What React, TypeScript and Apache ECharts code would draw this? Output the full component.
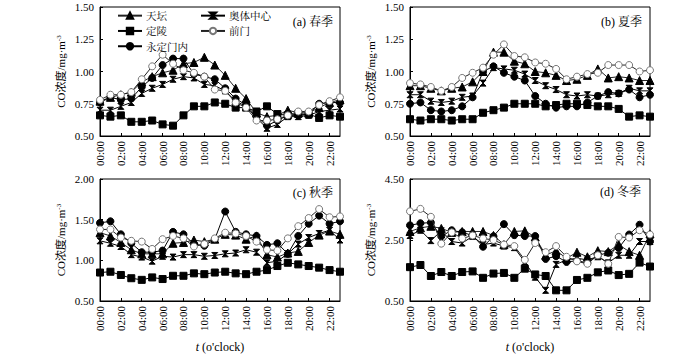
import React, { useEffect, useRef } from "react";
import * as echarts from "echarts";

const hours = Array.from({ length: 24 }, (_, i) => (i < 10 ? "0" + i : "" + i) + ":00");
const stations = ["天坛", "奥体中心", "定陵", "前门", "永定门内"];
const seasonTitles = ["(a) 春季", "(b) 夏季", "(c) 秋季", "(d) 冬季"];

// Spring
const tiantanSpring = [0.77, 0.8, 0.82, 0.84, 0.92, 0.96, 0.99, 1.01, 1.06, 1.07, 1.11, 1.05, 0.97, 0.87, 0.79, 0.68, 0.65, 0.66, 0.7, 0.68, 0.68, 0.72, 0.76, 0.78];
const aotiSpring = [0.7, 0.7, 0.73, 0.76, 0.83, 0.87, 0.9, 0.94, 0.96, 0.95, 0.9, 0.89, 0.85, 0.77, 0.73, 0.64, 0.56, 0.59, 0.65, 0.65, 0.66, 0.69, 0.7, 0.71];
const dinglingSpring = [0.66, 0.65, 0.66, 0.61, 0.61, 0.62, 0.59, 0.58, 0.66, 0.73, 0.73, 0.76, 0.75, 0.72, 0.72, 0.69, 0.73, 0.67, 0.66, 0.67, 0.67, 0.64, 0.66, 0.65];
const qianmenSpring = [0.78, 0.82, 0.82, 0.84, 0.94, 1.04, 1.13, 1.06, 1.01, 0.99, 0.96, 0.86, 0.85, 0.76, 0.72, 0.62, 0.62, 0.63, 0.66, 0.69, 0.69, 0.74, 0.77, 0.8];
const yongdingSpring = [0.76, 0.8, 0.78, 0.79, 0.88, 0.95, 1.05, 1.1, 1.1, 0.98, 0.96, 0.94, 0.87, 0.79, 0.74, 0.65, 0.58, 0.62, 0.66, 0.66, 0.67, 0.75, 0.76, 0.76];

// Summer
const tiantanSummer = [0.89, 0.89, 0.87, 0.85, 0.87, 0.88, 0.92, 1.0, 1.15, 1.15, 1.08, 1.06, 1.0, 0.99, 0.97, 0.93, 0.94, 0.97, 1.02, 0.95, 0.96, 0.95, 0.93, 0.93];
const aotiSummer = [0.82, 0.82, 0.77, 0.76, 0.77, 0.8, 0.81, 0.91, 1.03, 1.02, 1.01, 0.98, 0.93, 0.89, 0.86, 0.82, 0.81, 0.82, 0.81, 0.82, 0.83, 0.87, 0.85, 0.85];
const dinglingSummer = [0.63, 0.62, 0.63, 0.63, 0.62, 0.63, 0.63, 0.68, 0.7, 0.72, 0.75, 0.75, 0.75, 0.73, 0.74, 0.75, 0.75, 0.74, 0.73, 0.73, 0.71, 0.65, 0.66, 0.65];
const qianmenSummer = [0.91, 0.9, 0.88, 0.85, 0.88, 0.95, 0.99, 1.03, 1.13, 1.21, 1.12, 1.11, 1.07, 1.06, 1.02, 0.94, 0.96, 0.98, 0.99, 1.05, 1.05, 1.05, 1.0, 1.01];
const yongdingSummer = [0.75, 0.76, 0.7, 0.69, 0.7, 0.73, 0.8, 1.0, 1.04, 0.99, 0.96, 0.93, 0.81, 0.75, 0.72, 0.73, 0.73, 0.76, 0.81, 0.84, 0.83, 0.86, 0.8, 0.82];

// Autumn
const tiantanAutumn = [1.34, 1.3, 1.22, 1.13, 1.08, 1.08, 1.08, 1.21, 1.22, 1.25, 1.23, 1.26, 1.32, 1.31, 1.26, 1.3, 1.07, 1.04, 1.09, 1.11, 1.22, 1.31, 1.36, 1.32];
const aotiAutumn = [1.24, 1.21, 1.17, 1.07, 1.04, 0.99, 1.05, 1.04, 1.07, 1.07, 1.05, 1.06, 1.08, 1.09, 1.13, 1.1, 0.97, 0.99, 1.08, 1.2, 1.28, 1.33, 1.37, 1.25];
const dinglingAutumn = [0.85, 0.86, 0.82, 0.78, 0.76, 0.79, 0.77, 0.81, 0.81, 0.84, 0.83, 0.85, 0.86, 0.84, 0.83, 0.86, 0.88, 0.93, 0.97, 0.95, 0.93, 0.91, 0.88, 0.86];
const qianmenAutumn = [1.38, 1.38, 1.28, 1.24, 1.23, 1.14, 1.26, 1.3, 1.27, 1.17, 1.2, 1.27, 1.34, 1.33, 1.3, 1.23, 1.13, 1.12, 1.27, 1.42, 1.52, 1.63, 1.53, 1.54];
const yongdingAutumn = [1.46, 1.48, 1.32, 1.21, 1.1, 1.1, 1.12, 1.35, 1.32, 1.2, 1.18, 1.26, 1.6, 1.35, 1.32, 1.3, 1.19, 1.21, 1.08, 1.3, 1.45, 1.55, 1.45, 1.48];

// Winter
const tiantanWinter = [2.78, 2.9, 2.95, 2.88, 2.75, 2.78, 2.78, 2.78, 2.65, 2.35, 2.78, 2.8, 2.6, 2.0, 2.15, 1.9, 2.1, 1.95, 2.15, 2.12, 2.35, 2.12, 2.0, 2.7];
const aotiWinter = [2.65, 2.82, 2.48, 2.8, 2.45, 2.4, 2.62, 2.35, 2.4, 2.3, 2.25, 1.78, 1.28, 0.85, 1.7, 1.85, 1.9, 1.85, 1.95, 1.75, 2.0, 2.0, 2.45, 2.45];
const dinglingWinter = [1.61, 1.68, 1.32, 1.45, 1.32, 1.45, 1.47, 1.26, 1.4, 1.42, 1.26, 1.56, 1.37, 1.32, 0.85, 0.85, 1.19, 1.26, 1.44, 1.5, 1.35, 1.39, 1.76, 1.63];
const qianmenWinter = [3.44, 3.52, 3.26, 2.38, 2.75, 2.55, 2.65, 2.55, 2.5, 2.35, 2.3, 1.85, 2.4, 2.1, 2.3, 1.95, 1.8, 1.72, 2.0, 1.72, 2.6, 2.58, 2.82, 2.68];
const yongdingWinter = [2.98, 3.05, 3.07, 2.62, 2.82, 2.75, 2.65, 2.28, 2.62, 3.02, 2.66, 2.63, 2.63, 1.88, 1.97, 1.78, 1.82, 1.75, 2.0, 2.08, 2.24, 2.68, 3.0, 2.45];

const seasons = [
  [tiantanSpring, aotiSpring, dinglingSpring, qianmenSpring, yongdingSpring],
  [tiantanSummer, aotiSummer, dinglingSummer, qianmenSummer, yongdingSummer],
  [tiantanAutumn, aotiAutumn, dinglingAutumn, qianmenAutumn, yongdingAutumn],
  [tiantanWinter, aotiWinter, dinglingWinter, qianmenWinter, yongdingWinter],
];

const yMins = [0.5, 0.5, 0.5, 0.5];
const yMaxs = [1.5, 1.5, 2.0, 4.5];
const yIntervals = [0.25, 0.25, 0.5, 2];

const FONT = '"Liberation Serif", "Times New Roman", "Noto Sans CJK SC", serif';
const CJK = '"Noto Serif CJK SC", "Noto Sans CJK SC", serif';

const hourglass = "path://M0,0L10,0L0,10L10,10Z";

const styles = [
  { symbol: "triangle", symbolSize: 8, color: "#000", border: "#000", line: "#222" },
  { symbol: hourglass, symbolSize: 6, color: "#000", border: "#000", line: "#000" },
  { symbol: "rect", symbolSize: 7, color: "#000", border: "#000", line: "#000" },
  { symbol: "circle", symbolSize: 7, color: "#fff", border: "#777", line: "#222" },
  { symbol: "circle", symbolSize: 7, color: "#000", border: "#000", line: "#000" },
];

const grids = [
  { left: 100, top: 7, width: 240, height: 129 },
  { left: 410, top: 7, width: 240, height: 129 },
  { left: 100, top: 179, width: 240, height: 129 },
  { left: 410, top: 179, width: 240, height: 127 },
];

const titlePos = [
  [333, 22],
  [642, 22],
  [333, 193],
  [641, 192],
];

export default function App() {
  const ref = useRef<HTMLDivElement>(null);
  useEffect(() => {
    if (!ref.current) return;
    const chart = echarts.init(ref.current, null, { renderer: "svg" });
    const grid = grids.map((g) => ({
      ...g,
      show: true,
      borderColor: "#000",
      borderWidth: 1,
      backgroundColor: "transparent",
    }));
    const xAxis = grids.map((_, i) => ({
      type: "category",
      gridIndex: i,
      data: hours,
      boundaryGap: false,
      axisLine: { lineStyle: { color: "#000", width: 1 } },
      axisTick: { inside: true, length: 3, interval: 1, lineStyle: { color: "#000" } },
      axisLabel: {
        interval: 1,
        rotate: 90,
        margin: 5,
        fontFamily: FONT,
        fontSize: 11,
        color: "#000",
      },
      name: i >= 2 ? "{it|t} (o'clock)" : "",
      nameLocation: "middle",
      nameGap: 40,
      nameTextStyle: {
        fontFamily: FONT,
        fontSize: 12,
        color: "#000",
        rich: { it: { fontStyle: "italic", fontFamily: FONT, fontSize: 12, color: "#000" } },
      },
      splitLine: { show: false },
    }));
    const yAxis = grids.map((_, i) => ({
      type: "value",
      gridIndex: i,
      min: yMins[i],
      max: yMaxs[i],
      interval: yIntervals[i],
      axisLine: { show: true, lineStyle: { color: "#000", width: 1 } },
      axisTick: { show: true, inside: true, length: 3, lineStyle: { color: "#000" } },
      axisLabel: {
        formatter: (v: number) => v.toFixed(2),
        margin: 6,
        fontFamily: FONT,
        fontSize: 11,
        color: "#000",
      },
      splitLine: { show: false },
      name: "CO浓度/mg·m{sup|-3}",
      nameLocation: "middle",
      nameRotate: 90,
      nameGap: 33,
      nameTextStyle: {
        fontFamily: FONT,
        fontSize: 11,
        color: "#000",
        rich: { sup: { fontSize: 7, verticalAlign: "top", fontFamily: FONT, color: "#000", padding: [0, 0, 5, 0] } },
      },
    }));
    const series: any[] = [];
    seasons.forEach((data, gi) => {
      data.forEach((vals, si) => {
        const s = styles[si];
        series.push({
          type: "line",
          name: stations[si],
          xAxisIndex: gi,
          yAxisIndex: gi,
          data: vals,
          symbol: s.symbol,
          symbolSize: s.symbolSize,
          showSymbol: true,
          showAllSymbol: true,
          lineStyle: { color: s.line, width: 1 },
          itemStyle: { color: s.color, borderColor: s.border, borderWidth: 1 },
          z: si === 3 ? 3 : 2,
        });
      });
    });
    const legendCommon = {
      orient: "vertical",
      itemWidth: 24,
      itemHeight: 8,
      itemGap: 2,
      textStyle: { fontFamily: CJK, fontSize: 10.5, lineHeight: 13.3, color: "#000", padding: [0, 0, 0, -1] },
      padding: 0,
    };
    const option: any = {
      animation: false,
      backgroundColor: "#fff",
      grid,
      xAxis,
      yAxis,
      series,
      legend: [
        { ...legendCommon, left: 117, top: 9, data: ["天坛", "定陵", "永定门内"] },
        { ...legendCommon, left: 200, top: 9, data: ["奥体中心", "前门"] },
      ],
      graphic: seasonTitles.map((t, i) => ({
        type: "text",
        x: titlePos[i][0],
        y: titlePos[i][1],
        style: {
          text: t,
          align: "right",
          verticalAlign: "middle",
          font: '12px "Liberation Serif", "Noto Serif CJK SC", "Noto Sans CJK SC", serif',
          fill: "#000",
        },
      })),
    };
    chart.setOption(option);
    return () => chart.dispose();
  }, []);
  return (
    <div
      ref={ref}
      style={{ position: "fixed", left: 0, top: 0, width: 700, height: 354 }}
    />
  );
}
